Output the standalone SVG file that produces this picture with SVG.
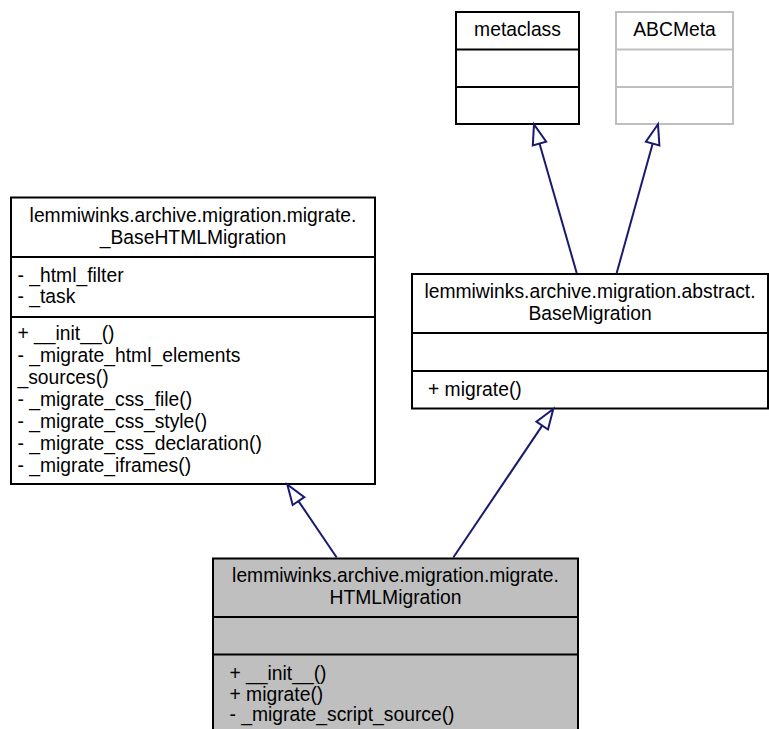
<svg xmlns="http://www.w3.org/2000/svg" width="769" height="729" viewBox="0 0 769 729">
<style>
text{font-family:"Liberation Sans",Arial,sans-serif;font-size:19.3px;fill:#000}
.c{text-anchor:middle}
.box{fill:#fff;stroke:#000;stroke-width:2}
.gray{fill:#fff;stroke:#bfbfbf;stroke-width:2}
.cur{fill:#bfbfbf;stroke:#000;stroke-width:2}
.edge{stroke:#191970;stroke-width:2;fill:none}
.head{fill:#fff;stroke:#191970;stroke-width:2}
</style>
<rect width="769" height="729" fill="#fff"/>
<g id="metaclass">
<rect class="box" x="456" y="12" width="123" height="112"/>
<line class="box" x1="456" y1="49.5" x2="579" y2="49.5"/>
<line class="box" x1="456" y1="87" x2="579" y2="87"/>
<text class="c" x="517.5" y="36">metaclass</text>
</g>
<g id="ABCMeta">
<rect class="gray" x="616" y="12" width="117" height="112"/>
<line class="gray" x1="616" y1="49.5" x2="733" y2="49.5"/>
<line class="gray" x1="616" y1="87" x2="733" y2="87"/>
<text class="c" x="674.5" y="36">ABCMeta</text>
</g>
<g id="BaseHTMLMigration">
<rect class="box" x="11" y="197.5" width="364" height="286.5"/>
<line class="box" x1="11" y1="257" x2="375" y2="257"/>
<line class="box" x1="11" y1="317" x2="375" y2="317"/>
<text class="c" x="193" y="222">lemmiwinks.archive.migration.migrate.</text>
<text class="c" x="193" y="243.5">_BaseHTMLMigration</text>
<text x="17.5" y="281.5">- _html_filter</text>
<text x="17.5" y="302.5">- _task</text>
<text x="17.5" y="339.5">+ __init__()</text>
<text x="17.5" y="361.5">- _migrate_html_elements</text>
<text x="17.5" y="383.5">_sources()</text>
<text x="17.5" y="405.5">- _migrate_css_file()</text>
<text x="17.5" y="427.5">- _migrate_css_style()</text>
<text x="17.5" y="449.5">- _migrate_css_declaration()</text>
<text x="17.5" y="471.5">- _migrate_iframes()</text>
</g>
<g id="BaseMigration">
<rect class="box" x="412" y="274" width="356" height="134.5"/>
<line class="box" x1="412" y1="333" x2="768" y2="333"/>
<line class="box" x1="412" y1="371" x2="768" y2="371"/>
<text class="c" x="590" y="297.5">lemmiwinks.archive.migration.abstract.</text>
<text class="c" x="590" y="319.5">BaseMigration</text>
<text x="428" y="395.5">+ migrate()</text>
</g>
<g id="HTMLMigration">
<rect class="cur" x="213" y="558.5" width="365" height="180"/>
<line class="box" x1="213" y1="617" x2="578" y2="617"/>
<line class="box" x1="213" y1="654.5" x2="578" y2="654.5"/>
<text class="c" x="395.5" y="582">lemmiwinks.archive.migration.migrate.</text>
<text class="c" x="395.5" y="603.5">HTMLMigration</text>
<text x="229.5" y="679.5">+ __init__()</text>
<text x="229.5" y="701">+ migrate()</text>
<text x="229.5" y="721">- _migrate_script_source()</text>
</g>
<g id="connectors">
<line class="edge" x1="576.7" y1="273" x2="539.5" y2="143.5"/>
<polygon class="head" points="534,124.3 532.8,145.4 546.2,141.6"/>
<line class="edge" x1="616.7" y1="273" x2="652.7" y2="143.6"/>
<polygon class="head" points="658,124.3 645.9,141.7 659.4,145.5"/>
<line class="edge" x1="336.7" y1="557.5" x2="298.5" y2="501.1"/>
<polygon class="head" points="287.3,484.5 292.7,505 304.3,497.2"/>
<line class="edge" x1="453.3" y1="557.5" x2="542.2" y2="425.6"/>
<polygon class="head" points="553.3,409 536.4,421.7 548,429.5"/>
</g>
</svg>
